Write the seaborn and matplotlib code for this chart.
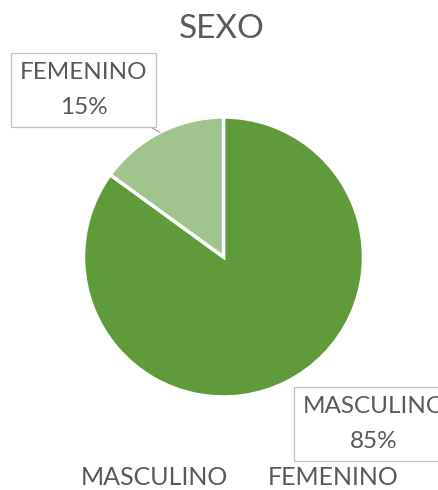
import matplotlib
matplotlib.use("Agg")
import matplotlib.pyplot as plt
import seaborn as sns
import numpy as np
from matplotlib.patches import Patch

sns.set_theme(style="white")
plt.rcParams['font.family'] = ['Lato', 'DejaVu Sans']

# data
categories = ["MASCULINO", "FEMENINO"]
values = [85, 15]
colors = ["#5f9b3b", "#9fc48c"]
title = "SEXO"
text_grey = "#595959"

fig = plt.figure(figsize=(4.39, 4.90), dpi=100)
W, H = 439, 490
cx, cy, r = 223.5, 257, 140
ax = fig.add_axes([(cx - r) / W, (H - cy - r) / H, 2 * r / W, 2 * r / H])

wedges, _ = ax.pie(values, colors=colors, startangle=90, counterclock=False,
                   wedgeprops=dict(edgecolor="white", linewidth=2.5))
ax.set_xlim(-1, 1)
ax.set_ylim(-1, 1)
ax.set_aspect("equal")
ax.axis("off")

total = sum(values)
box = dict(boxstyle="square,pad=0.36", fc="white", ec="#bfbfbf", lw=0.9)

# FEMENINO label with leader line
w_fem = wedges[1]
ang = np.deg2rad((w_fem.theta1 + w_fem.theta2) / 2)
ax.annotate(f"{categories[1]}\n{values[1] / total:.0%}",
            xy=(np.cos(ang), np.sin(ang)), xycoords="data",
            xytext=(83.5 / W, 1 - 90 / H), textcoords="figure fraction",
            ha="center", va="center", fontsize=17.5, color=text_grey,
            linespacing=1.8, bbox=box,
            arrowprops=dict(arrowstyle="-", color="#a6a6a6", lw=0.9,
                            shrinkA=0, shrinkB=0))

# MASCULINO label (runs past the right edge as in the source)
fig.text(374 / W, 1 - 424 / H, f"{categories[0]}\n{values[0] / total:.0%}",
         ha="center", va="center", fontsize=17.5, color=text_grey,
         linespacing=1.8, bbox=box)

fig.text(222 / W, 1 - 29 / H, title, ha="center", va="center",
         fontsize=24, color=text_grey)

handles = [Patch(facecolor="none", edgecolor="none") for _ in categories]
leg = fig.legend(handles, categories, loc="center", ncol=2,
                 bbox_to_anchor=(240 / W, 1 - 477 / H), frameon=False,
                 handlelength=0, handletextpad=0, columnspacing=1.6,
                 fontsize=18, borderpad=0)
for t in leg.get_texts():
    t.set_color(text_grey)

fig.savefig("out.png", dpi=100)
